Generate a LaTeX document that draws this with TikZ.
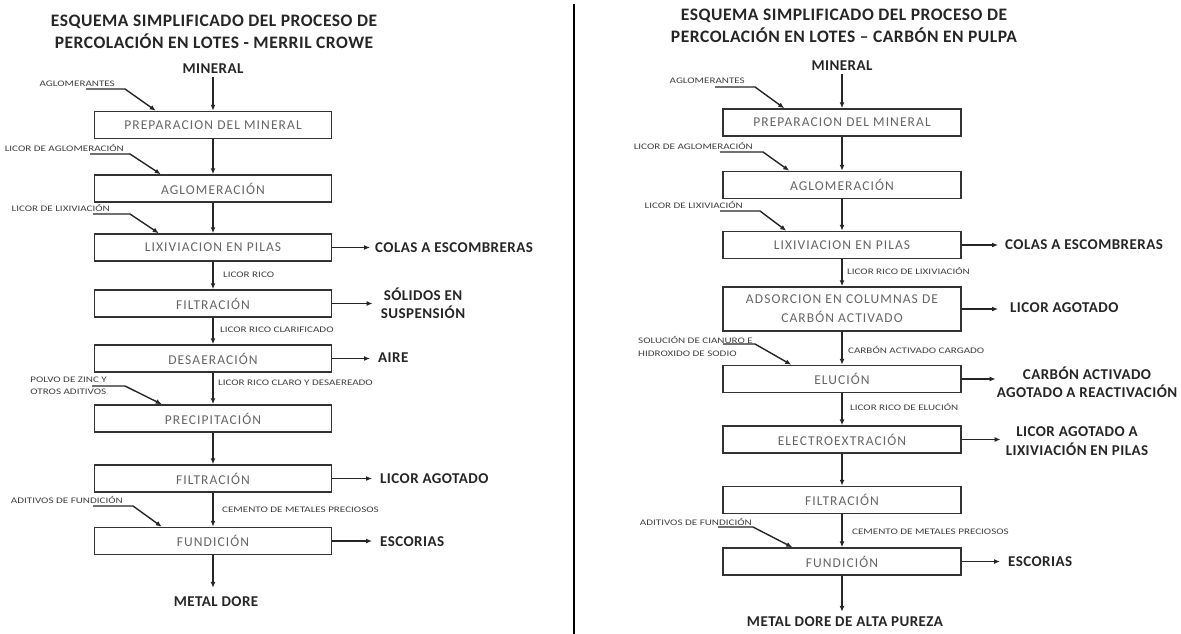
\documentclass[tikz,border=0pt]{standalone}
\usepackage{fontspec}
\setmainfont{Carlito}
\newfontfamily\boxfont[LetterSpace=8]{Carlito}
\newfontfamily\labfont[LetterSpace=3]{Carlito}
\newfontfamily\smfont[FakeStretch=1.3]{Carlito}
\usetikzlibrary{arrows.meta,calc}
\tikzset{
  pbox/.style={draw=black!80, line width=1.5pt, minimum width=237pt, minimum height=27pt, inner sep=0pt,
    font=\boxfont\fontsize{13.5}{19}\selectfont, text=black!60, align=center},
  flow/.style={draw=black!85, line width=1.4pt, -{Latex[length=6pt,width=5pt]}},
  small/.style={font=\smfont\fontsize{8.5}{12.5}\selectfont, text=black!75, inner sep=0pt, align=left},
  outl/.style={font=\labfont\bfseries\fontsize{15}{18.5}\selectfont, text=black!85, inner sep=0pt, align=center},
  ttl/.style={font=\labfont\bfseries\fontsize{17.5}{22}\selectfont, align=center, text=black!85},
}
\begin{document}
\begin{tikzpicture}[x=1pt,y=-1pt]
\fill[white] (0,0) rectangle (1181,634);
\useasboundingbox (0,0) rectangle (1181,634);
% separator
\coordinate (s1) at (574,4);
\coordinate (s2) at (574,634);
\draw[line width=2.8pt] (s1) -- (s2);

%================ LEFT =================
\node[ttl] (tL) at (214,32) {ESQUEMA SIMPLIFICADO DEL PROCESO DE\\PERCOLACIÓN EN LOTES - MERRIL CROWE};
\node[outl] (minL) at (213,69) {MINERAL};
\node[pbox] (L1) at (213,125) {PREPARACION DEL MINERAL};
\node[pbox] (L2) at (213,188.5) {AGLOMERACIÓN};
\node[pbox] (L3) at (213,247.5) {LIXIVIACION EN PILAS};
\node[pbox] (L4) at (213,303.5) {FILTRACIÓN};
\node[pbox] (L5) at (213,358.5) {DESAERACIÓN};
\node[pbox] (L6) at (213,418.5) {PRECIPITACIÓN};
\node[pbox] (L7) at (213,478.5) {FILTRACIÓN};
\node[pbox] (L8) at (213,541) {FUNDICIÓN};
\node[outl] (metL) at (216,602) {METAL DORE};

\draw[flow] ([yshift=-3pt]minL.south) -- (L1.north);
\draw[flow] (L1) -- (L2);
\draw[flow] (L2) -- (L3);
\draw[flow] (L3) -- (L4);
\draw[flow] (L4) -- (L5);
\draw[flow] (L5) -- (L6);
\draw[flow] (L6) -- (L7);
\draw[flow] (L7) -- (L8);
\draw[flow] (L8.south) -- ([yshift=9pt]L8.south |- metL.north);

% middle labels
\node[small, anchor=west] (mL3) at (223,275) {LICOR RICO};
\node[small, anchor=west] (mL4) at (220,330) {LICOR RICO CLARIFICADO};
\node[small, anchor=west] (mL5) at (218,383) {LICOR RICO CLARO Y DESAEREADO};
\node[small, anchor=west] (mL7) at (222,510) {CEMENTO DE METALES PRECIOSOS};

% feeds
\node[small, anchor=east] (fL1) at (115,84) {AGLOMERANTES};
\coordinate (fL1a) at (86,89); \coordinate (fL1b) at (125,89);
\draw[flow] (fL1a) -- (fL1b) -- ($(L1.north west)+(62,0)$);
\node[small, anchor=east] (fL2) at (124,148) {LICOR DE AGLOMERACIÓN};
\coordinate (fL2a) at (90,154); \coordinate (fL2b) at (130,154);
\draw[flow] (fL2a) -- (fL2b) -- ($(L2.north west)+(67,0)$);
\node[small, anchor=east] (fL3) at (110,208) {LICOR DE LIXIVIACIÓN};
\coordinate (fL3a) at (93,214); \coordinate (fL3b) at (130,214);
\draw[flow] (fL3a) -- (fL3b) -- ($(L3.north west)+(65,0)$);
\node[small, anchor=east] (fL6) at (107,386) {POLVO DE ZINC Y\\OTROS ADITIVOS};
\coordinate (fL6a) at (92,386); \coordinate (fL6b) at (125,386);
\draw[flow] (fL6a) -- (fL6b) -- ($(L6.north west)+(68,0)$);
\node[small, anchor=east] (fL8) at (123,500) {ADITIVOS DE FUNDICIÓN};
\coordinate (fL8a) at (93,506); \coordinate (fL8b) at (133,506);
\draw[flow] (fL8a) -- (fL8b) -- ($(L8.north west)+(68,0)$);

% outputs
\node[outl, anchor=west] (oL3) at (375,248) {COLAS A ESCOMBRERAS};
\node[outl] (oL4) at (423,303.5) {SÓLIDOS EN\\SUSPENSIÓN};
\node[outl, anchor=west] (oL5) at (378,358) {AIRE};
\node[outl, anchor=west] (oL7) at (380,479) {LICOR AGOTADO};
\node[outl, anchor=west] (oL8) at (380,542) {ESCORIAS};
\draw[flow] (L3.east) -- ([xshift=-5pt]L3.east -| oL3.west);
\draw[flow] (L4.east) -- ([xshift=-8pt]L4.east -| oL4.west);
\draw[flow] (L5.east) -- ([xshift=-8pt]L5.east -| oL5.west);
\draw[flow] (L7.east) -- ([xshift=-8pt]L7.east -| oL7.west);
\draw[flow] (L8.east) -- ([xshift=-8pt]L8.east -| oL8.west);

%================ RIGHT =================
\node[ttl] (tR) at (844,26) {ESQUEMA SIMPLIFICADO DEL PROCESO DE\\PERCOLACIÓN EN LOTES – CARBÓN EN PULPA};
\node[outl] (minR) at (842,66) {MINERAL};
\node[pbox, minimum width=238pt] (R1) at (842,122.5) {PREPARACION DEL MINERAL};
\node[pbox, minimum width=238pt] (R2) at (842,185) {AGLOMERACIÓN};
\node[pbox, minimum width=238pt] (R3) at (842,245) {LIXIVIACION EN PILAS};
\node[pbox, minimum width=238pt, minimum height=44pt] (R4) at (842,309) {ADSORCION EN COLUMNAS DE\\CARBÓN ACTIVADO};
\node[pbox, minimum width=238pt] (R5) at (842,379) {ELUCIÓN};
\node[pbox, minimum width=238pt] (R6) at (842,439.5) {ELECTROEXTRACIÓN};
\node[pbox, minimum width=238pt] (R7) at (842,500) {FILTRACIÓN};
\node[pbox, minimum width=238pt] (R8) at (842,561.5) {FUNDICIÓN};
\node[outl] (metR) at (845,622) {METAL DORE DE ALTA PUREZA};

\draw[flow] ([yshift=-3pt]minR.south) -- (R1.north);
\draw[flow] (R1) -- (R2);
\draw[flow] (R2) -- (R3);
\draw[flow] (R3) -- (R4);
\draw[flow] (R4) -- (R5);
\draw[flow] (R5) -- (R6);
\draw[flow] (R6) -- (R7);
\draw[flow] (R7) -- (R8);
\draw[flow] (R8.south) -- ([yshift=5pt]R8.south |- metR.north);

% middle labels
\node[small, anchor=west] (mR3) at (847,271) {LICOR RICO DE LIXIVIACIÓN};
\node[small, anchor=west] (mR4) at (848,350) {CARBÓN ACTIVADO CARGADO};
\node[small, anchor=west] (mR5) at (850,407) {LICOR RICO DE ELUCIÓN};
\node[small, anchor=west] (mR7) at (852,532) {CEMENTO DE METALES PRECIOSOS};

% feeds
\node[small, anchor=east] (fR1) at (745,81) {AGLOMERANTES};
\coordinate (fR1a) at (715,87); \coordinate (fR1b) at (755,87);
\draw[flow] (fR1a) -- (fR1b) -- ($(R1.north west)+(62,0)$);
\node[small, anchor=east] (fR2) at (753,146) {LICOR DE AGLOMERACIÓN};
\coordinate (fR2a) at (720,152); \coordinate (fR2b) at (763,152);
\draw[flow] (fR2a) -- (fR2b) -- ($(R2.north west)+(67,0)$);
\node[small, anchor=east] (fR3) at (743,205) {LICOR DE LIXIVIACIÓN};
\coordinate (fR3a) at (720,211); \coordinate (fR3b) at (760,211);
\draw[flow] (fR3a) -- (fR3b) -- ($(R3.north west)+(64,0)$);
\node[small, anchor=east] (fR5) at (753,346.5) {SOLUCIÓN DE CIANURO E\\HIDROXIDO DE SODIO};
\coordinate (fR5a) at (723,344); \coordinate (fR5b) at (755,344);
\draw[flow] (fR5a) -- (fR5b) -- ($(R5.north west)+(69,0)$);
\node[small, anchor=east] (fR8) at (752,522) {ADITIVOS DE FUNDICIÓN};
\coordinate (fR8a) at (718,527); \coordinate (fR8b) at (753,527);
\draw[flow] (fR8a) -- (fR8b) -- ($(R8.north west)+(70,0)$);

% outputs
\node[outl, anchor=west] (oR3) at (1005,245) {COLAS A ESCOMBRERAS};
\node[outl, anchor=west] (oR4) at (1010,308) {LICOR AGOTADO};
\node[outl] (oR5) at (1087,382) {CARBÓN ACTIVADO\\AGOTADO A REACTIVACIÓN};
\node[outl] (oR6) at (1077,441) {LICOR AGOTADO A\\LIXIVIACIÓN EN PILAS};
\node[outl, anchor=west] (oR8) at (1008,562) {ESCORIAS};
\draw[flow] (R3.east) -- ([xshift=-7pt]R3.east -| oR3.west);
\draw[flow] (R4.east) -- ([xshift=-12pt]R4.east -| oR4.west);
\draw[flow] (R5.east) -- ([xshift=-1pt]R5.east -| oR5.west);
\draw[flow] (R6.east) -- ([xshift=-5pt]R6.east -| oR6.west);
\draw[flow] (R8.east) -- ([xshift=-8pt]R8.east -| oR8.west);
\end{tikzpicture}
\end{document}
